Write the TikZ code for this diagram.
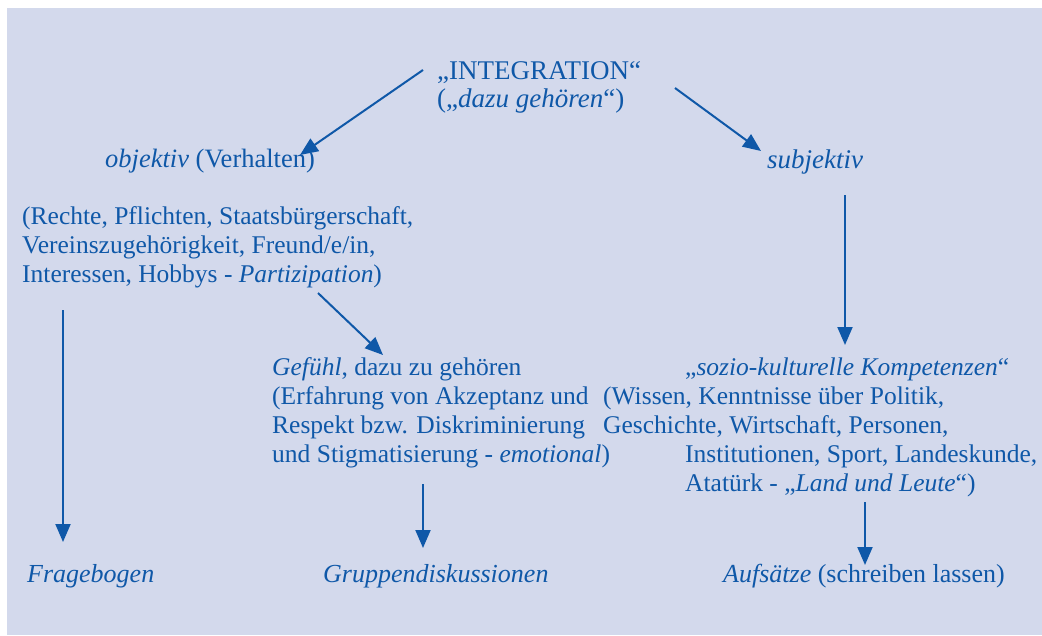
\documentclass[tikz,border=0pt]{standalone}
\usepackage{fontspec}
\setmainfont{Liberation Serif}
\usetikzlibrary{arrows.meta}
\definecolor{ink}{RGB}{15,88,168}
\definecolor{bgcol}{RGB}{211,217,236}
\tikzset{
  txt/.style={text=ink, inner sep=0pt, font=\fontsize{25.5}{29}\selectfont},
  blk/.style={txt, align=left, anchor=north west, execute at begin node=\strut},
  one/.style={txt, anchor=base west, font=\fontsize{26.5}{29}\selectfont},
  arr/.style={draw=ink, line width=2pt, -{Triangle[length=18pt,width=15pt]}}
}
\begin{document}
\begin{tikzpicture}[x=1pt,y=-1pt]
\useasboundingbox (0,0) rectangle (1042,635);
\fill[bgcol] (7,8) rectangle (1042,635);

% nodes
\node[blk, font=\fontsize{27}{28}\selectfont] (integ) at (437,61.4) {„INTEGRATION“\\(„\textit{dazu gehören}“)};
\node[one] (obj) at (105,167) {\textit{objektiv} (Verhalten)};
\node[one, font=\fontsize{27}{29}\selectfont] (subj) at (767,168) {\textit{subjektiv}};
\node[blk] (rechte) at (22,206.7) {(Rechte, Pflichten, Staatsbürgerschaft,\\Vereinszugehörigkeit, Freund/e/in,\\Interessen, Hobbys - \textit{Partizipation})};
\node[blk] (gefuehl) at (272,357.2) {\textit{Gefühl}, dazu zu gehören\\(Erfahrung von Akzeptanz und\\Respekt bzw. Diskriminierung\\und Stigmatisierung - \textit{emotional})};
\node[blk] (sozio) at (603,357.2) {\hspace*{82pt}„\textit{sozio-kulturelle Kompetenzen}“\\(Wissen, Kenntnisse über Politik,\\Geschichte, Wirtschaft, Personen,\\\hspace*{82pt}Institutionen, Sport, Landeskunde,\\\hspace*{82pt}Atatürk - „\textit{Land und Leute}“)};
\node[one, font=\fontsize{26}{29}\selectfont] (frage) at (27,582) {\textit{Fragebogen}};
\node[one, font=\fontsize{26}{29}\selectfont] (gruppe) at (323,582) {\textit{Gruppendiskussionen}};
\node[one, font=\fontsize{26}{29}\selectfont] (aufs) at (723,582) {\textit{Aufsätze} (schreiben lassen)};

% connector end points
\coordinate (a1s) at (423,70);   \coordinate (a1e) at (300,155);
\coordinate (a2s) at (675,88);   \coordinate (a2e) at (761,151);
\coordinate (a3s) at (845,195);  \coordinate (a3e) at (845,345);
\coordinate (a4s) at (63,310);   \coordinate (a4e) at (63,542);
\coordinate (a5s) at (318,293);  \coordinate (a5e) at (383,355);
\coordinate (a6s) at (423,484);  \coordinate (a6e) at (423,548);
\coordinate (a7s) at (865,502);  \coordinate (a7e) at (865,565);

\draw[arr] (a1s) -- (a1e);
\draw[arr] (a2s) -- (a2e);
\draw[arr] (a3s) -- (a3e);
\draw[arr] (a4s) -- (a4e);
\draw[arr] (a5s) -- (a5e);
\draw[arr] (a6s) -- (a6e);
\draw[arr] (a7s) -- (a7e);
\end{tikzpicture}
\end{document}
